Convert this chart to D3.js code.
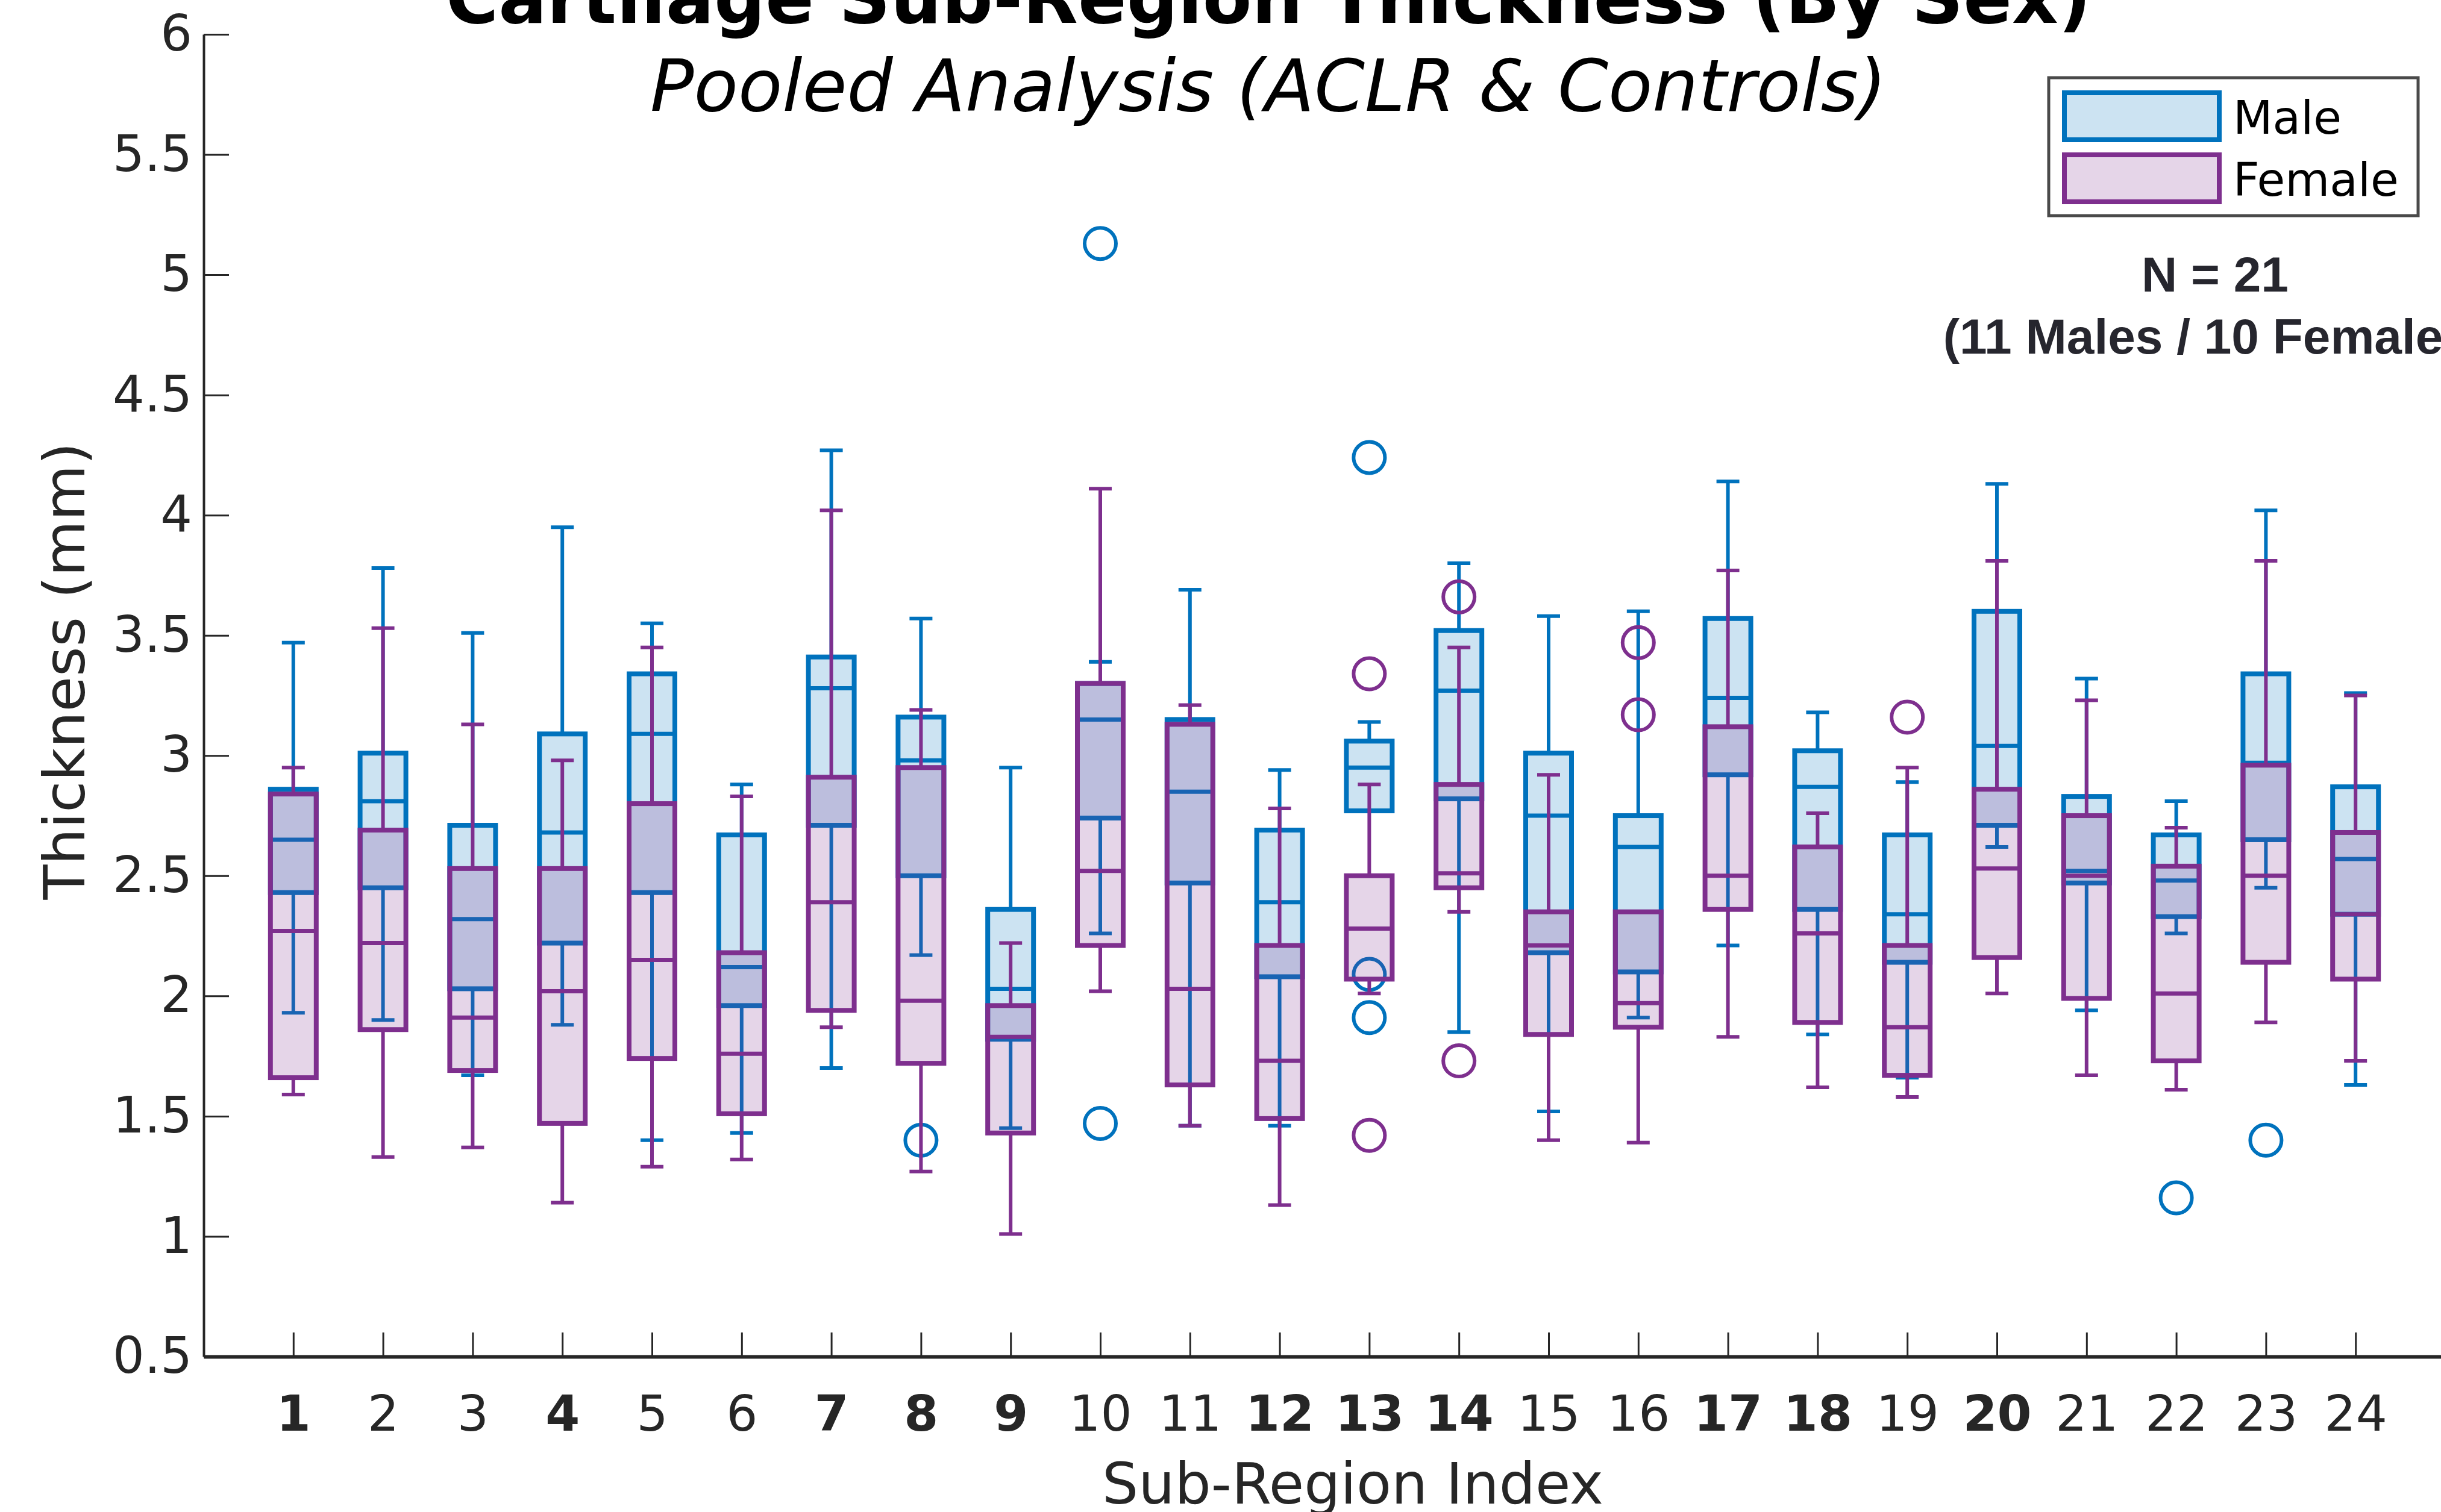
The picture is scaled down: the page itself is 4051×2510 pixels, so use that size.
<!DOCTYPE html>
<html>
<head>
<meta charset="utf-8">
<script src="https://cdn.jsdelivr.net/npm/d3@7"></script>
<style>
  html, body { margin: 0; padding: 0; background: #fff; }
  svg { display: block; }
</style>
</head>
<body>
<div id="chart"></div>
<script>
// Sub-region indices, bold ones are highlighted on the axis
const regions = d3.range(1, 25);
const boldRegions = [1, 4, 7, 8, 9, 12, 13, 14, 17, 18, 20];
const yTicks = [0.5, 1, 1.5, 2, 2.5, 3, 3.5, 4, 4.5, 5, 5.5, 6];

// [lower whisker, Q1, median, Q3, upper whisker] per region
const maleBoxes = [
  [1.93, 2.43, 2.65, 2.86, 3.47],
  [1.90, 2.45, 2.81, 3.01, 3.78],
  [1.67, 2.03, 2.32, 2.71, 3.51],
  [1.88, 2.22, 2.68, 3.09, 3.95],
  [1.40, 2.43, 3.09, 3.34, 3.55],
  [1.43, 1.96, 2.12, 2.67, 2.88],
  [1.70, 2.71, 3.28, 3.41, 4.27],
  [2.17, 2.50, 2.98, 3.16, 3.57],
  [1.45, 1.82, 2.03, 2.36, 2.95],
  [2.26, 2.74, 3.15, 3.30, 3.39],
  [1.46, 2.47, 2.85, 3.15, 3.69],
  [1.46, 2.08, 2.39, 2.69, 2.94],
  [2.77, 2.77, 2.95, 3.06, 3.14],
  [1.85, 2.82, 3.27, 3.52, 3.80],
  [1.52, 2.18, 2.75, 3.01, 3.58],
  [1.91, 2.10, 2.62, 2.75, 3.60],
  [2.21, 2.92, 3.24, 3.57, 4.14],
  [1.84, 2.36, 2.87, 3.02, 3.18],
  [1.66, 2.14, 2.34, 2.67, 2.89],
  [2.62, 2.71, 3.04, 3.60, 4.13],
  [1.94, 2.47, 2.52, 2.83, 3.32],
  [2.26, 2.33, 2.48, 2.67, 2.81],
  [2.45, 2.65, 2.97, 3.34, 4.02],
  [1.63, 2.34, 2.57, 2.87, 3.26]
];

const femaleBoxes = [
  [1.59, 1.66, 2.27, 2.84, 2.95],
  [1.33, 1.86, 2.22, 2.69, 3.53],
  [1.37, 1.69, 1.91, 2.53, 3.13],
  [1.14, 1.47, 2.02, 2.53, 2.98],
  [1.29, 1.74, 2.15, 2.80, 3.45],
  [1.32, 1.51, 1.76, 2.18, 2.83],
  [1.87, 1.94, 2.39, 2.91, 4.02],
  [1.27, 1.72, 1.98, 2.95, 3.19],
  [1.01, 1.43, 1.83, 1.96, 2.22],
  [2.02, 2.21, 2.52, 3.30, 4.11],
  [1.46, 1.63, 2.03, 3.13, 3.21],
  [1.13, 1.49, 1.73, 2.21, 2.78],
  [2.01, 2.07, 2.28, 2.50, 2.88],
  [2.35, 2.45, 2.51, 2.88, 3.45],
  [1.40, 1.84, 2.21, 2.35, 2.92],
  [1.39, 1.87, 1.97, 2.35, 2.35],
  [1.83, 2.36, 2.50, 3.12, 3.77],
  [1.62, 1.89, 2.26, 2.62, 2.76],
  [1.58, 1.67, 1.87, 2.21, 2.95],
  [2.01, 2.16, 2.53, 2.86, 3.81],
  [1.67, 1.99, 2.50, 2.75, 3.23],
  [1.61, 1.73, 2.01, 2.54, 2.70],
  [1.89, 2.14, 2.50, 2.96, 3.81],
  [1.73, 2.07, 2.34, 2.68, 3.25]
];

// [region, value]
const maleOutliers = [[8, 1.40], [10, 5.13], [10, 1.47], [13, 4.24], [13, 2.09], [13, 1.91], [22, 1.16], [23, 1.40]];
const femaleOutliers = [[13, 3.34], [13, 1.42], [14, 3.66], [14, 1.73], [16, 3.47], [16, 3.17], [19, 3.16]];

const series = [
  { name: "Male", color: "#0072BD", boxes: maleBoxes, outliers: maleOutliers },
  { name: "Female", color: "#7E2F8E", boxes: femaleBoxes, outliers: femaleOutliers }
];

////////////////////////////////////////////////////////////////////////////////////

const width = 4051;
const height = 2510;
const font = "'DejaVu Sans', Verdana, sans-serif";
const axisColor = "#262626";

const svg = d3.select("#chart").append("svg")
  .attr("width", width)
  .attr("height", height)
  .style("font-family", font);

const x = d3.scaleLinear().domain([0, 25]).range([338, 338 + 25 * 148.8]);
const y = d3.scaleLinear().domain([0.5, 6]).range([2252, 57]);

const boxW = 76;
const capW = 38;

////////////////////////////////////////////////////////////////////////////////////

series.forEach((s) => {
  const g = svg.append("g").attr("class", "series-" + s.name);
  const item = g.selectAll("g").data(s.boxes).enter().append("g");

  // whiskers
  item.append("line")
    .attr("x1", (d, i) => x(regions[i])).attr("x2", (d, i) => x(regions[i]))
    .attr("y1", (d) => y(d[3])).attr("y2", (d) => y(d[4]))
    .attr("stroke", s.color).attr("stroke-width", 6);
  item.append("line")
    .attr("x1", (d, i) => x(regions[i])).attr("x2", (d, i) => x(regions[i]))
    .attr("y1", (d) => y(d[0])).attr("y2", (d) => y(d[1]))
    .attr("stroke", s.color).attr("stroke-width", 6);
  [0, 4].forEach((k) => {
    item.append("line")
      .attr("x1", (d, i) => x(regions[i]) - capW / 2).attr("x2", (d, i) => x(regions[i]) + capW / 2)
      .attr("y1", (d) => y(d[k])).attr("y2", (d) => y(d[k]))
      .attr("stroke", s.color).attr("stroke-width", 6);
  });

  // box
  item.append("rect")
    .attr("x", (d, i) => x(regions[i]) - boxW / 2)
    .attr("width", boxW)
    .attr("y", (d) => y(d[3]))
    .attr("height", (d) => y(d[1]) - y(d[3]))
    .attr("fill", s.color).attr("fill-opacity", 0.2)
    .attr("stroke", s.color).attr("stroke-width", 8);

  // median
  item.append("line")
    .attr("x1", (d, i) => x(regions[i]) - boxW / 2).attr("x2", (d, i) => x(regions[i]) + boxW / 2)
    .attr("y1", (d) => y(d[2])).attr("y2", (d) => y(d[2]))
    .attr("stroke", s.color).attr("stroke-width", 7);

  // outliers
  g.selectAll("circle").data(s.outliers).enter().append("circle")
    .attr("cx", (d) => x(d[0])).attr("cy", (d) => y(d[1]))
    .attr("r", 26)
    .attr("fill", "none").attr("stroke", s.color).attr("stroke-width", 6);
});

////////////////////////////////////////////////////////////////////////////////////

const yAxis = svg.append("g")
  .attr("transform", `translate(${x(0)},0)`)
  .call(d3.axisLeft(y).tickValues(yTicks).tickFormat(d3.format("")).tickSizeInner(-42).tickSizeOuter(0).tickPadding(19));
yAxis.select(".domain").attr("stroke", axisColor).attr("stroke-width", 4);
yAxis.selectAll(".tick line").attr("stroke", axisColor).attr("stroke-width", 3);
yAxis.selectAll(".tick text").attr("fill", axisColor).style("font-size", "83px").style("font-family", font);

const xAxis = svg.append("g")
  .attr("transform", `translate(0,${y(0.5)})`)
  .call(d3.axisBottom(x).tickValues(regions).tickSizeInner(-40).tickSizeOuter(0).tickPadding(65));
xAxis.select(".domain").attr("stroke", axisColor).attr("stroke-width", 6);
xAxis.selectAll(".tick line").attr("stroke", axisColor).attr("stroke-width", 3);
xAxis.selectAll(".tick text")
  .attr("fill", axisColor)
  .style("font-size", "82px")
  .style("font-family", font)
  .style("font-weight", (d) => boldRegions.includes(d) ? "bold" : "normal");

svg.append("text")
  .attr("transform", "translate(140,1114) rotate(-90)")
  .attr("text-anchor", "middle")
  .attr("fill", axisColor)
  .style("font-size", "95px")
  .text("Thickness (mm)");

svg.append("text")
  .attr("x", 2245).attr("y", 2496)
  .attr("text-anchor", "middle")
  .attr("fill", axisColor)
  .style("font-size", "95px")
  .text("Sub-Region Index");

// titles
svg.append("text")
  .attr("x", 2105).attr("y", 38)
  .attr("text-anchor", "middle")
  .style("font-size", "119px").style("font-weight", "bold")
  .text("Cartilage Sub-Region Thickness (By Sex)");

svg.append("text")
  .attr("x", 2105).attr("y", 184)
  .attr("text-anchor", "middle")
  .style("font-size", "120px").style("font-style", "italic")
  .text("Pooled Analysis (ACLR & Controls)");

////////////////////////////////////////////////////////////////////////////////////

const legend = svg.append("g");
legend.append("rect")
  .attr("x", 3400).attr("y", 129).attr("width", 613).attr("height", 229)
  .attr("fill", "#fff").attr("stroke", "#4a4a4a").attr("stroke-width", 5);

const legendItem = legend.selectAll("g.item").data(series).enter().append("g")
  .attr("class", "item")
  .attr("transform", (d, i) => `translate(0,${i * 103})`);
legendItem.append("rect")
  .attr("x", 3426).attr("y", 154).attr("width", 257).attr("height", 78)
  .attr("fill", (d) => d.color).attr("fill-opacity", 0.2)
  .attr("stroke", (d) => d.color).attr("stroke-width", 8);
legendItem.append("text")
  .attr("x", 3706).attr("y", 222)
  .style("font-size", "76px")
  .text((d) => d.name);

const note = svg.append("g")
  .attr("fill", "#26262e")
  .style("font-family", "'Liberation Sans', Arial, sans-serif")
  .style("font-weight", "bold")
  .style("font-size", "82px")
  .attr("text-anchor", "middle");
note.append("text").attr("x", 3676).attr("y", 484).text("N = 21");
note.append("text").attr("x", 3676).attr("y", 587).text("(11 Males / 10 Females)");
</script>
</body>
</html>
